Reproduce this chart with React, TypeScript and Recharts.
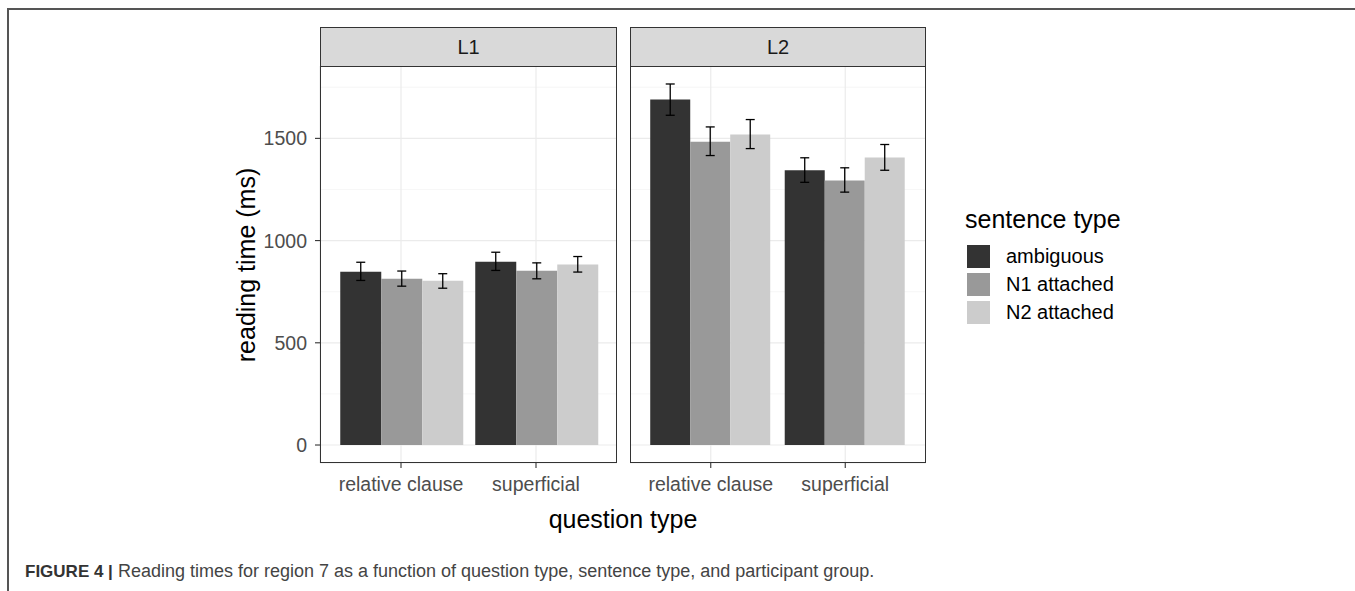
import React from 'react';
import {
  Bar,
  BarChart,
  CartesianGrid,
  ErrorBar,
  XAxis,
  YAxis,
} from 'recharts';

// question types on the x axis
const questionTypes = ['relative clause', 'superficial'];
const sentenceTypes = ['ambiguous', 'N1 attached', 'N2 attached'];
const sentenceColors = ['#333333', '#999999', '#CCCCCC'];

// L1 means and interval bounds (ms), one value per question type
const l1Ambiguous = [847, 896];
const l1AmbiguousLow = [805, 854];
const l1AmbiguousHigh = [894, 943];
const l1N1 = [813, 852];
const l1N1Low = [777, 813];
const l1N1High = [851, 891];
const l1N2 = [803, 883];
const l1N2Low = [767, 846];
const l1N2High = [838, 922];

// L2
const l2Ambiguous = [1690, 1344];
const l2AmbiguousLow = [1613, 1285];
const l2AmbiguousHigh = [1766, 1405];
const l2N1 = [1483, 1294];
const l2N1Low = [1416, 1237];
const l2N1High = [1556, 1356];
const l2N2 = [1519, 1406];
const l2N2Low = [1450, 1344];
const l2N2High = [1592, 1470];

const yTicks = [0, 500, 1000, 1500];
const yMinorTicks = [250, 750, 1250, 1750];

const FONT = '"Liberation Sans", Arial, sans-serif';

function buildRows(means: number[][], lows: number[][], highs: number[][]) {
  return questionTypes.map((q, i) => {
    const row: Record<string, any> = { question: q };
    sentenceTypes.forEach((_, s) => {
      row[`s${s}`] = means[s][i];
      row[`e${s}`] = [means[s][i] - lows[s][i], highs[s][i] - means[s][i]];
    });
    return row;
  });
}

const l1Rows = buildRows(
  [l1Ambiguous, l1N1, l1N2],
  [l1AmbiguousLow, l1N1Low, l1N2Low],
  [l1AmbiguousHigh, l1N1High, l1N2High],
);
const l2Rows = buildRows(
  [l2Ambiguous, l2N1, l2N2],
  [l2AmbiguousLow, l2N1Low, l2N2Low],
  [l2AmbiguousHigh, l2N1High, l2N2High],
);

const PANEL_TOP = 66;
const PLOT_H = 397;
const AXIS_H = 40;

function Panel({
  label,
  rows,
  left,
  width,
  showY,
}: {
  label: string;
  rows: Record<string, any>[];
  left: number;
  width: number;
  showY: boolean;
}) {
  const yW = showY ? 70 : 0;
  return (
    <>
      <div
        style={{
          position: 'absolute',
          left,
          top: 27,
          width,
          height: 40,
          boxSizing: 'border-box',
          background: '#D9D9D9',
          border: '1px solid #333333',
          textAlign: 'center',
          lineHeight: '38px',
          fontSize: 20,
          color: '#1A1A1A',
        }}
      >
        {label}
      </div>
      <div style={{ position: 'absolute', left: left - yW, top: PANEL_TOP }}>
        <BarChart
          width={width + yW}
          height={PLOT_H + AXIS_H}
          data={rows}
          margin={{ top: 0, right: 0, left: 0, bottom: 0 }}
          barCategoryGap="5%"
          barGap={0}
        >
          <CartesianGrid
            stroke="#F0F0F0"
            strokeWidth={0.6}
            vertical={false}
            horizontalValues={yMinorTicks}
          />
          <CartesianGrid stroke="#EBEBEB" strokeWidth={1.2} />
          <XAxis
            dataKey="question"
            type="category"
            height={AXIS_H}
            padding={{ left: 13.5, right: 13.5 }}
            axisLine={false}
            tickLine={{ stroke: '#333333', strokeWidth: 1.1 }}
            tickSize={5}
            tickMargin={9}
            tick={{ fill: '#4D4D4D', fontSize: 19.5 }}
            interval={0}
          />
          <YAxis
            type="number"
            domain={[-88, 1854]}
            ticks={yTicks}
            allowDataOverflow
            hide={!showY}
            width={yW}
            axisLine={false}
            tickLine={{ stroke: '#333333', strokeWidth: 1.1 }}
            tickSize={5}
            tickMargin={8}
            tick={{ fill: '#4D4D4D', fontSize: 19.5 }}
          />
          {sentenceTypes.map((name, s) => (
            <Bar
              key={name}
              dataKey={`s${s}`}
              name={name}
              fill={sentenceColors[s]}
              isAnimationActive={false}
            >
              <ErrorBar
                dataKey={`e${s}`}
                direction="y"
                width={4.5}
                stroke="#000000"
                strokeWidth={1.3}
              />
            </Bar>
          ))}
        </BarChart>
      </div>
      <div
        style={{
          position: 'absolute',
          left,
          top: PANEL_TOP,
          width,
          height: PLOT_H,
          boxSizing: 'border-box',
          border: '1px solid #333333',
          pointerEvents: 'none',
        }}
      />
    </>
  );
}

export default function App() {
  return (
    <div
      style={{
        position: 'absolute',
        left: 0,
        top: 0,
        width: 1355,
        height: 591,
        background: '#ffffff',
        overflow: 'hidden',
        fontFamily: FONT,
      }}
    >
      <div
        style={{
          position: 'absolute',
          left: 7,
          top: 8,
          width: 1360,
          height: 600,
          borderTop: '2px solid #555555',
          borderLeft: '2px solid #555555',
        }}
      />
      <Panel label="L1" rows={l1Rows} left={320} width={297} showY />
      <Panel label="L2" rows={l2Rows} left={630} width={296} showY={false} />

      <div
        style={{
          position: 'absolute',
          left: 246,
          top: 265,
          transform: 'translate(-50%, -50%) rotate(-90deg)',
          whiteSpace: 'nowrap',
          fontSize: 25,
          color: '#000000',
        }}
      >
        reading time (ms)
      </div>
      <div
        style={{
          position: 'absolute',
          left: 623,
          top: 519,
          transform: 'translate(-50%, -50%)',
          whiteSpace: 'nowrap',
          fontSize: 25,
          color: '#000000',
        }}
      >
        question type
      </div>

      <div
        style={{
          position: 'absolute',
          left: 965,
          top: 219,
          transform: 'translateY(-50%)',
          whiteSpace: 'nowrap',
          fontSize: 25,
          color: '#000000',
        }}
      >
        sentence type
      </div>
      {sentenceTypes.map((name, s) => (
        <div
          key={name}
          style={{
            position: 'absolute',
            left: 967,
            top: 245 + s * 28,
            height: 23,
            display: 'flex',
            alignItems: 'center',
            whiteSpace: 'nowrap',
          }}
        >
          <div style={{ width: 23, height: 23, background: sentenceColors[s] }} />
          <span style={{ marginLeft: 16, fontSize: 20, color: '#000000' }}>{name}</span>
        </div>
      ))}

      <div
        style={{
          position: 'absolute',
          left: 25,
          top: 571,
          transform: 'translateY(-50%)',
          whiteSpace: 'nowrap',
          fontSize: 18,
          color: '#444444',
        }}
      >
        <b style={{ color: '#333333', fontSize: 17 }}>FIGURE 4 |</b> Reading times for region 7 as a
        function of question type, sentence type, and participant group.
      </div>
    </div>
  );
}
